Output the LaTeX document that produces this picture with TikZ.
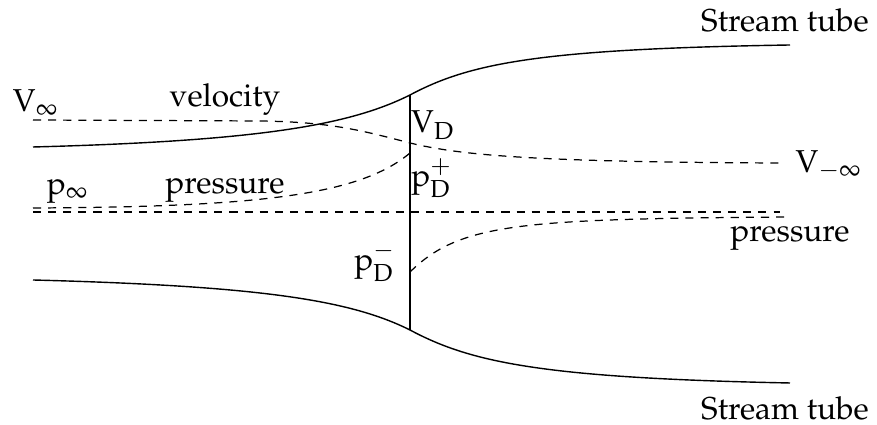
\documentclass[tikz,border=0pt]{standalone}
\usepackage{amsmath}
\usepackage[T1]{fontenc}
\usepackage{mathpazo}
\usepackage{tikz}
\usetikzlibrary{positioning, calc}

\begin{document}
\begin{tikzpicture}[x=1cm, y=1cm,
    tube/.style={line width=0.4pt},
    flowline/.style={line width=0.35pt, dash pattern=on 2.3pt off 2pt},
    every node/.style={font=\fontsize{9}{11}\selectfont}]
    \useasboundingbox (0,0) rectangle (8.77,4.25);

    % actuator disk
    \coordinate (dtop) at (4.10,3.30);
    \coordinate (dbot) at (4.10,0.95);
    \draw[line width=0.4pt] (dtop) -- (dbot);

    % stream tube
    \draw[tube] (0.33,2.78) .. controls (2.6,2.84) and (3.5,3.0) .. (dtop)
        .. controls (4.7,3.62) and (5.4,3.76) .. (7.90,3.80);
    \draw[tube] (0.33,1.45) .. controls (2.6,1.39) and (3.5,1.25) .. (dbot)
        .. controls (4.7,0.63) and (5.4,0.47) .. (7.90,0.42);

    % velocity and pressure
    \coordinate (vdisk) at (4.10,2.82);
    \coordinate (pplus) at (4.10,2.72);
    \coordinate (pminus) at (4.10,1.53);
    \draw[flowline] (0.33,3.05) -- (2.6,3.04) .. controls (3.3,3.03) and (3.6,2.95) .. (vdisk)
        .. controls (4.6,2.70) and (5.3,2.63) .. (7.80,2.62);
    \draw[flowline] (0.33,2.17) .. controls (2.6,2.18) and (3.6,2.30) .. (pplus);
    \draw[flowline] (pminus) .. controls (4.6,2.02) and (5.2,2.06) .. (7.89,2.08);
    \draw[flowline] (0.33,2.13) -- (7.80,2.13);

    % labels
    \node (tubetop) at (7.85,4.05) {Stream tube};
    \node (tubebot) at (7.85,0.17) {Stream tube};
    \node (vinf) at (0.36,3.22) {$\mathrm{V}_\infty$};
    \node (vel) at (2.25,3.25) {velocity};
    \node (vd) at (4.33,3.00) {$\mathrm{V}_{\mathrm{D}}$};
    \node (pdp) at (4.32,2.47) {$\mathrm{p}_{\mathrm{D}}^{+}$};
    \node (vminf) at (8.29,2.60) {$\mathrm{V}_{-\infty}$};
    \node (pinf) at (0.68,2.33) {$\mathrm{p}_\infty$};
    \node (presl) at (2.25,2.35) {pressure};
    \node (presr) at (7.90,1.87) {pressure};
    \node (pdm) at (3.75,1.63) {$\mathrm{p}_{\mathrm{D}}^{-}$};
\end{tikzpicture}
\end{document}
